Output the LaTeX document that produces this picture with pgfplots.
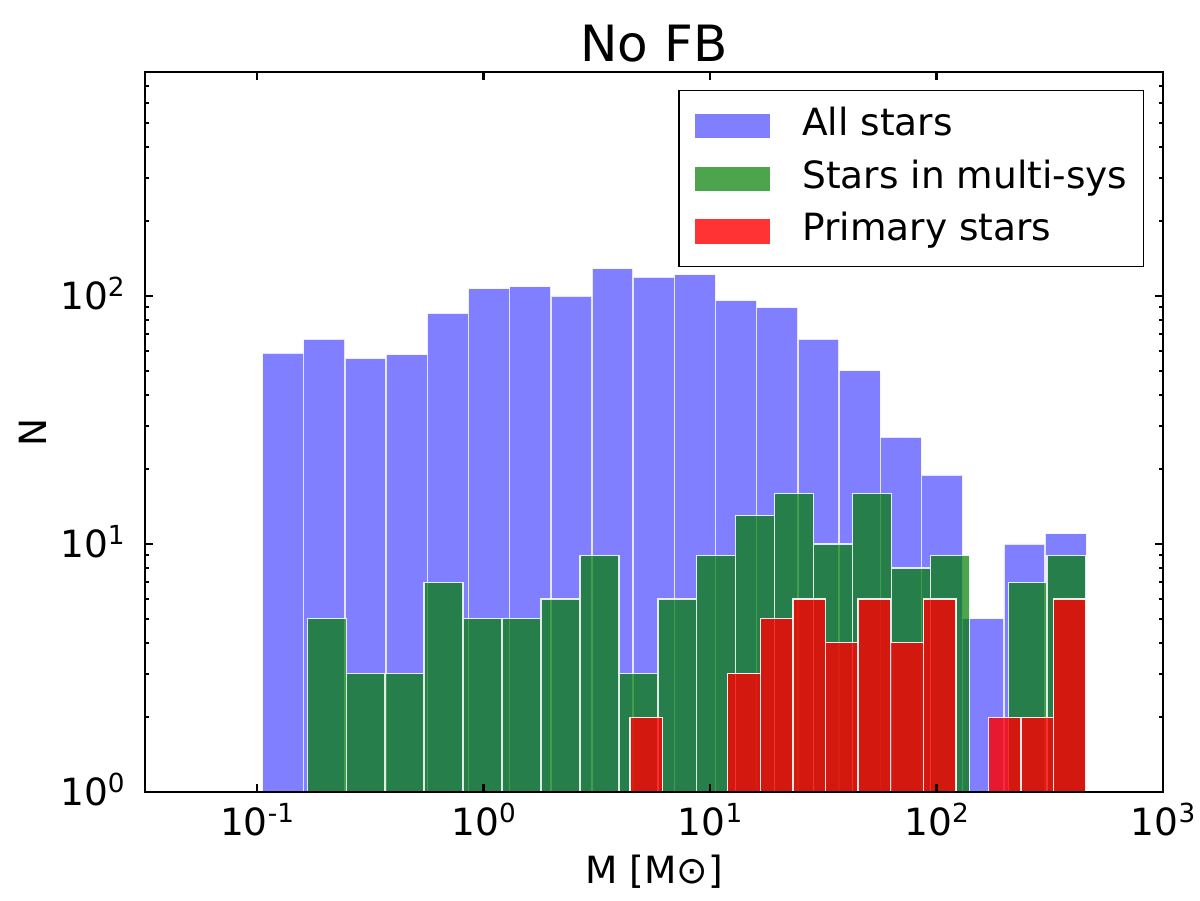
\documentclass[border=0pt]{standalone}
\usepackage{fontspec}
\setmainfont{DejaVu Sans}
\usepackage{pgfplots}
\usepackage{pgfplotstable}
\pgfplotsset{compat=1.18}

% Histogram counts: left bin edge (M_sun) and count; last row closes the final bin.
% A count of 1 marks an empty bin (zero height on the log axis).
\pgfplotstableread{
edge    count
0.10576 59
0.16074 67
0.24434 56
0.37137 58
0.56448 85
0.85816 107
1.3043  109
1.9828  100
3.0130  129
4.5806  119
6.9615  122
10.581  96
16.085  90
24.447  67
37.163  50
56.480  27
85.838  19
130.49  5
198.32  10
301.53  11
458.3   11
}\allstars

\pgfplotstableread{
edge    count
0.16679 5
0.24774 3
0.36813 3
0.54691 7
0.81246 5
1.2072  5
1.7934  6
2.6652  9
3.9590  3
5.8816  6
8.7394  9
12.984  13
19.287  16
28.660  10
42.580  16
63.256  8
93.995  9
139.64  1
207.45  7
308.20  9
457.97  9
}\multisys

\pgfplotstableread{
edge    count
4.4350  2
6.1760  1
8.6003  1
11.977  3
16.685  5
23.236  6
32.359  4
45.07   6
62.78   4
87.42   6
121.75  1
169.6   2
236.1   2
328.9   6
458.1   6
}\primary

\newcommand{\labfont}{\fontsize{18}{21.6}\selectfont}
\newcommand{\pow}[1]{10\raisebox{6.5pt}{\fontsize{12.6}{15}\selectfont #1}}

\pgfplotsset{
  histbar/.style={
    ybar interval, draw=white, line width=0.7pt,
    legend image code/.code={\fill[##1,draw=none] (0pt,-5.8pt) rectangle (36pt,5.8pt);},
  },
}

\begin{document}
\begin{tikzpicture}
\useasboundingbox (-69.6pt,-51.84pt) rectangle (506.4pt,380.16pt);
\begin{axis}[
  at={(0pt,0pt)}, anchor=south west,
  scale only axis, width=488.64pt, height=345.6pt,
  xmode=log, ymode=log, log basis x=10, log basis y=10,
  xmin=0.03202, xmax=1000, ymin=1, ymax=800,
  xtick={0.1,1,10,100,1000}, ytick={1,10,100},
  minor ytick={2,3,4,5,6,7,8,9,20,30,40,50,60,70,80,90,200,300,400,500,600,700,800},
  xminorticks=false,
  axis on top,
  axis line style={line width=1.2pt},
  tick align=inside,
  major tick style={black, line width=1.1pt},
  minor tick style={black, line width=0.9pt},
  major tick length=4pt, minor tick length=2pt,
  xticklabel={\pgfmathparse{int(round(\tick))}\pow{\pgfmathresult}},
  yticklabel={\pgfmathparse{int(round(\tick))}\pow{\pgfmathresult}},
  xticklabel style={font=\labfont, inner sep=0pt, anchor=base, yshift=-21.1pt},
  yticklabel style={font=\labfont, inner sep=0pt, anchor=base east, xshift=-9.6pt, yshift=-6.6pt},
  title={No FB},
  title style={font=\fontsize{24}{28.8}\selectfont, inner sep=0pt, anchor=base,
    yshift=-6pt, at={([yshift=4.8pt]axis description cs:0.5,1)}},
  xlabel={M [M⊙]},
  xlabel style={font=\labfont, inner sep=0pt, anchor=base,
    at={([yshift=-43.7pt]axis description cs:0.5,0)}},
  ylabel={N},
  ylabel style={font=\labfont, inner sep=0pt, anchor=base,
    at={([xshift=-47.5pt]axis description cs:0,0.5)}},
  legend style={
    at={(rel axis cs:0.9813,0.975)}, anchor=north east,
    draw=black, line width=0.7pt, fill=white,
    font=\labfont,
    inner xsep=7.6pt, inner ysep=8.3pt,
    row sep=8pt, column sep=15.5pt,
    cells={anchor=west},
    nodes={inner sep=0pt, text height=13.1pt, text depth=4.2pt},
  },
  legend cell align=left,
]
\addplot[histbar, fill=blue, fill opacity=0.5, draw opacity=0.8] table[x=edge, y=count] {\allstars};
\addlegendentry{All stars}
\addplot[histbar, fill=green!50!black, fill opacity=0.7, draw opacity=0.85] table[x=edge, y=count] {\multisys};
\addlegendentry{Stars in multi-sys}
\addplot[histbar, fill=red, fill opacity=0.8, draw opacity=0.9] table[x=edge, y=count] {\primary};
\addlegendentry{Primary stars}
\end{axis}
\end{tikzpicture}
\end{document}
